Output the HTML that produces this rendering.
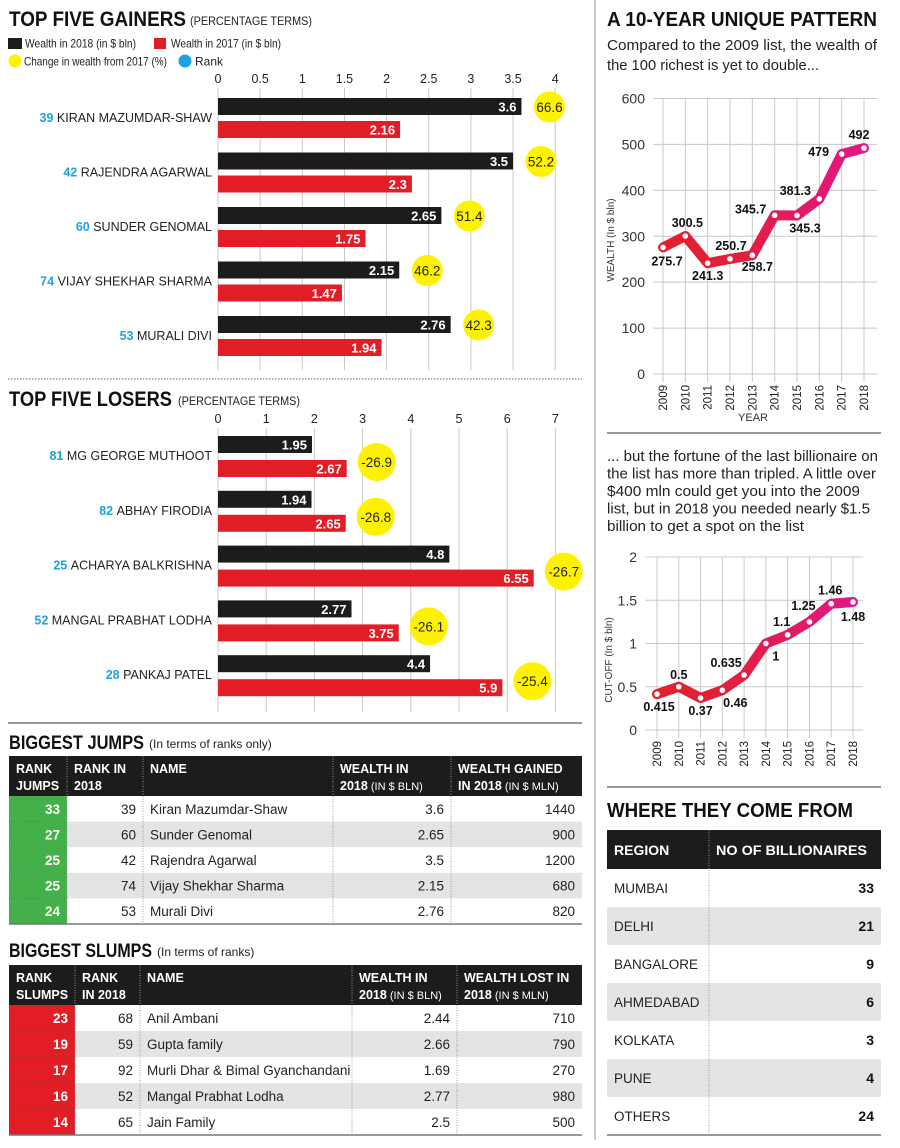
<!DOCTYPE html>
<html><head><meta charset="utf-8">
<style>
html,body{margin:0;padding:0;background:#fff;}
svg{display:block;font-family:"Liberation Sans Narrow","Liberation Sans",sans-serif;}
</style></head>
<body>
<svg id="root" width="900" height="1148" viewBox="0 0 900 1148" xmlns="http://www.w3.org/2000/svg">
<defs>
<linearGradient id="lg1" gradientUnits="userSpaceOnUse" x1="660" y1="0" x2="870" y2="0"><stop offset="0" stop-color="#e3202b"/><stop offset="0.35" stop-color="#e21f3c"/><stop offset="1" stop-color="#e2168a"/></linearGradient>
<linearGradient id="lg2" gradientUnits="userSpaceOnUse" x1="655" y1="0" x2="860" y2="0"><stop offset="0" stop-color="#e3202b"/><stop offset="0.35" stop-color="#e21f3c"/><stop offset="1" stop-color="#e2168a"/></linearGradient>
</defs>
</svg>
<script>
// ---------- DATA ----------
const gNames=['KIRAN MAZUMDAR-SHAW','RAJENDRA AGARWAL','SUNDER GENOMAL','VIJAY SHEKHAR SHARMA','MURALI DIVI'];
const gRanks=[39,42,60,74,53];
const g2018=[3.6,3.5,2.65,2.15,2.76];
const g2017=[2.16,2.3,1.75,1.47,1.94];
const gChange=['66.6','52.2','51.4','46.2','42.3'];
const gTicks=[0,0.5,1,1.5,2,2.5,3,3.5,4];
const lNames=['MG GEORGE MUTHOOT','ABHAY FIRODIA','ACHARYA BALKRISHNA','MANGAL PRABHAT LODHA','PANKAJ PATEL'];
const lRanks=[81,82,25,52,28];
const l2018=[1.95,1.94,4.8,2.77,4.4];
const l2017=[2.67,2.65,6.55,3.75,5.9];
const lChange=['-26.9','-26.8','-26.7','-26.1','-25.4'];
const lTicks=[0,1,2,3,4,5,6,7];
const years=['2009','2010','2011','2012','2013','2014','2015','2016','2017','2018'];
const wealth=[275.7,300.5,241.3,250.7,258.7,345.7,345.3,381.3,479,492];
const wTicks=[0,100,200,300,400,500,600];
const cutoff=[0.415,0.5,0.37,0.46,0.635,1,1.1,1.25,1.46,1.48];
const cTicks=[0,0.5,1,1.5,2];
const jJumps=[33,27,25,25,24];
const jRank=[39,60,42,74,53];
const jName=['Kiran Mazumdar-Shaw','Sunder Genomal','Rajendra Agarwal','Vijay Shekhar Sharma','Murali Divi'];
const jWealth=['3.6','2.65','3.5','2.15','2.76'];
const jGained=[1440,900,1200,680,820];
const sSlumps=[23,19,17,16,14];
const sRank=[68,59,92,52,65];
const sName=['Anil Ambani','Gupta family','Murli Dhar & Bimal Gyanchandani','Mangal Prabhat Lodha','Jain Family'];
const sWealth=['2.44','2.66','1.69','2.77','2.5'];
const sLost=[710,790,270,980,500];
const regions=['MUMBAI','DELHI','BANGALORE','AHMEDABAD','KOLKATA','PUNE','OTHERS'];
const regionCounts=[33,21,9,6,3,4,24];

const NS='http://www.w3.org/2000/svg';
const root=document.getElementById('root');
function mk(tag,attrs,parent){const e=document.createElementNS(NS,tag);for(const k in attrs)e.setAttribute(k,attrs[k]);(parent||root).appendChild(e);return e;}
function txt(s,attrs,parent){const e=mk('text',attrs,parent);e.textContent=s;return e;}
const RED='#e31d25',BLK='#1c1c1c',YEL='#fff200',BLU='#1ba3e4',GRN='#43b04a',GRID='#c8c8c8';

let e;
e=mk('line',{x1:595,y1:0,x2:595,y2:1140,stroke:'#bbb','stroke-width':1.5});


e=mk('line',{x1:8,y1:379,x2:582,y2:379,stroke:'#999','stroke-width':1.5,'stroke-dasharray':'1.5,1.5'});


e=mk('line',{x1:8,y1:723,x2:582,y2:723,stroke:'#777','stroke-width':1.5});



// ---------- GAINERS ----------
e=txt('TOP FIVE GAINERS',{x:9,y:26,'font-size':21,'font-weight':'bold',fill:'#111',textLength:177,lengthAdjust:'spacingAndGlyphs'});


e=txt('(PERCENTAGE TERMS)',{x:190,y:25,'font-size':11.5,fill:'#222',textLength:122,lengthAdjust:'spacingAndGlyphs'});


e=mk('rect',{x:8,y:38,width:14,height:11,fill:BLK});


e=txt('Wealth in 2018 (in $ bln)',{x:25,y:47.5,'font-size':12,fill:'#222',textLength:111,lengthAdjust:'spacingAndGlyphs'});


e=mk('rect',{x:154,y:38,width:12,height:11,fill:RED});


e=txt('Wealth in 2017 (in $ bln)',{x:171,y:47.5,'font-size':12,fill:'#222',textLength:110,lengthAdjust:'spacingAndGlyphs'});


e=mk('circle',{cx:15,cy:61,r:6.5,fill:YEL});


e=txt('Change in wealth from 2017 (%)',{x:24,y:65.5,'font-size':12,fill:'#222',textLength:143,lengthAdjust:'spacingAndGlyphs'});


e=mk('circle',{cx:185,cy:61,r:6.5,fill:BLU});


e=txt('Rank',{x:195,y:65.5,'font-size':12,fill:'#222'});



function barChart(cfg){
  const xs=v=>cfg.x0+v*cfg.unit;
  cfg.ticks.forEach(t=>{
    const l=mk('line',{x1:xs(t),y1:cfg.gridTop,x2:xs(t),y2:cfg.gridBot,stroke:GRID,'stroke-width':1});
    
    
    const tl=txt(String(t),{x:xs(t),y:cfg.tickY,'font-size':12.5,'text-anchor':'middle',fill:'#222'});
    
    
  });
  cfg.names.forEach((n,i)=>{
    const top=cfg.top0+i*cfg.step;
    const lab=txt('',{x:212,y:top+24,'font-size':12.5,'text-anchor':'end',fill:'#222'});
    
    
    const r=document.createElementNS(NS,'tspan');r.setAttribute('fill',BLU);r.setAttribute('font-weight','bold');r.textContent=cfg.ranks[i]+' ';lab.appendChild(r);
    const nn=document.createElementNS(NS,'tspan');nn.textContent=n;lab.appendChild(nn);
    const b1=mk('rect',{x:cfg.x0,y:top,width:xs(cfg.v1[i])-cfg.x0,height:17,fill:BLK});
    
    
    const t1=txt(String(cfg.v1[i]),{x:xs(cfg.v1[i])-5,y:top+13.5,'font-size':13,'font-weight':'bold','text-anchor':'end',fill:'#fff'});
    
    
    const b2=mk('rect',{x:cfg.x0,y:top+cfg.redOff,width:xs(cfg.v2[i])-cfg.x0,height:17,fill:RED});
    
    
    const t2=txt(String(cfg.v2[i]),{x:xs(cfg.v2[i])-5,y:top+cfg.redOff+13.5,'font-size':13,'font-weight':'bold','text-anchor':'end',fill:'#fff'});
    
    
    const cx=cfg.gain?xs(cfg.v1[i])+28:xs(cfg.v2[i])+30;
    const cy=cfg.gain?top+9:top+cfg.redOff+2;
    const c=mk('circle',{cx:cx,cy:cy,r:cfg.gain?15.5:19,fill:YEL});
    
    
    const ct=txt(cfg.change[i],{x:cx,y:cy+5,'font-size':13.5,'text-anchor':'middle',fill:'#222'});
    
    
  });
}
barChart({x0:218,unit:84.3,ticks:gTicks,gridTop:88,gridBot:370,tickY:83,names:gNames,ranks:gRanks,v1:g2018,v2:g2017,change:gChange,top0:98,step:54.5,redOff:23,gain:true});

// ---------- LOSERS ----------
e=txt('TOP FIVE LOSERS',{x:9,y:406,'font-size':21,'font-weight':'bold',fill:'#111',textLength:163,lengthAdjust:'spacingAndGlyphs'});


e=txt('(PERCENTAGE TERMS)',{x:178,y:405,'font-size':11.5,fill:'#222',textLength:122,lengthAdjust:'spacingAndGlyphs'});


barChart({x0:218,unit:48.2,ticks:lTicks,gridTop:428,gridBot:712,tickY:423,names:lNames,ranks:lRanks,v1:l2018,v2:l2017,change:lChange,top0:436,step:54.8,redOff:24,gain:false});

// ---------- TABLES ----------
function table(cfg){
  const t=txt(cfg.title,{x:9,y:cfg.titleY,'font-size':19,'font-weight':'bold',fill:'#111',textLength:cfg.titleW,lengthAdjust:'spacingAndGlyphs'});
  
  
  const st=txt(cfg.sub,{x:cfg.titleW+14,y:cfg.titleY-1,'font-size':12,fill:'#222'});
  
  
  const L=cfg.cols[0],R=cfg.cols[cfg.cols.length-1];
  const h=mk('rect',{x:L,y:cfg.hTop,width:R-L,height:cfg.hBot-cfg.hTop,fill:BLK});
  
  
  cfg.heads.forEach((hd,j)=>{
    hd.forEach((line,k)=>{
      const ht=txt('',{x:cfg.cols[j]+7,y:cfg.hTop+17+k*17,'font-size':12.5,'font-weight':'bold',fill:'#fff'});
      
      
      const a=document.createElementNS(NS,'tspan');a.textContent=line[0];ht.appendChild(a);
      if(line[1]){const b=document.createElementNS(NS,'tspan');b.setAttribute('font-weight','normal');b.setAttribute('font-size','11');b.textContent=' '+line[1];ht.appendChild(b);}
    });
  });
  const rh=(cfg.bot-cfg.hBot)/5;
  for(let i=0;i<5;i++){
    const y=cfg.hBot+i*rh;
    if(i%2==1){const g=mk('rect',{x:cfg.cols[1],y:y,width:R-cfg.cols[1],height:rh,fill:'#e4e4e4'});
      
      }
    const c=mk('rect',{x:L,y:y,width:cfg.cols[1]-L,height:rh,fill:cfg.color});
    
    
    if(i>0){const dl=mk('line',{x1:L,y1:y,x2:cfg.cols[1],y2:y,stroke:'#1d6b22','stroke-width':1,'stroke-dasharray':'1,1.5','stroke-opacity':0.6});
      
      }
    const vals=[cfg.c0[i],cfg.c1[i],cfg.c2[i],cfg.c3[i],cfg.c4[i]];
    vals.forEach((v,j)=>{
      const left=j==2;
      const tt=txt(String(v),{x:left?cfg.cols[j]+7:cfg.cols[j+1]-7,y:y+rh/2+5,'font-size':13.5,'text-anchor':left?'start':'end',fill:j==0?'#fff':'#222','font-weight':j==0?'bold':'normal'});
      
      
    });
  }
  for(let j=1;j<cfg.cols.length-1;j++){
    const vl=mk('line',{x1:cfg.cols[j],y1:cfg.hTop,x2:cfg.cols[j],y2:cfg.bot,stroke:'#999','stroke-width':1,'stroke-dasharray':'1,1.5'});
    
    
  }
  const bl=mk('line',{x1:L,y1:cfg.bot,x2:R,y2:cfg.bot,stroke:'#777','stroke-width':1.5});
  
  
}
table({key:'jumps',title:'BIGGEST JUMPS',sub:'(In terms of ranks only)',titleY:749,titleW:135,hTop:756,hBot:796,bot:924,cols:[9,67,143,333,451,582],color:GRN,
  heads:[[['RANK'],['JUMPS']],[['RANK IN'],['2018']],[['NAME']],[['WEALTH IN'],['2018','(IN $ BLN)']],[['WEALTH GAINED'],['IN 2018','(IN $ MLN)']]],
  c0:jJumps,c1:jRank,c2:jName,c3:jWealth,c4:jGained});
table({key:'slumps',title:'BIGGEST SLUMPS',sub:'(In terms of ranks)',titleY:957,titleW:143,hTop:965,hBot:1005,bot:1135,cols:[9,75,140,352,457,582],color:RED,
  heads:[[['RANK'],['SLUMPS']],[['RANK'],['IN 2018']],[['NAME']],[['WEALTH IN'],['2018','(IN $ BLN)']],[['WEALTH LOST IN'],['2018','(IN $ MLN)']]],
  c0:sSlumps,c1:sRank,c2:sName,c3:sWealth,c4:sLost});

// ---------- RIGHT: WEALTH LINE ----------
e=txt('A 10-YEAR UNIQUE PATTERN',{x:607,y:26,'font-size':20,'font-weight':'bold',fill:'#111',textLength:270,lengthAdjust:'spacingAndGlyphs'});


[['Compared to the 2009 list, the wealth of',270],['the 100 richest is yet to double...',212]].forEach((l,i)=>{
  const p=txt(l[0],{x:607,y:50+i*20,'font-size':15,fill:'#222',textLength:l[1],lengthAdjust:'spacingAndGlyphs'});
  
  
});
function lineChart(cfg){
  const xs=i=>cfg.xa+i*(cfg.xb-cfg.xa)/(years.length-1);
  const ys=v=>cfg.y0-(v-cfg.ticks[0])/(cfg.ticks[cfg.ticks.length-1]-cfg.ticks[0])*(cfg.y0-cfg.yTop);
  cfg.ticks.forEach(t=>{
    const l=mk('line',{x1:cfg.gl,y1:ys(t),x2:cfg.gr,y2:ys(t),stroke:GRID,'stroke-width':1});
    
    
    const tl=txt(String(t),{x:cfg.gl-8,y:ys(t)+5,'font-size':14,'text-anchor':'end',fill:'#333'});
    
    
  });
  years.forEach((y,i)=>{
    const l=mk('line',{x1:xs(i),y1:cfg.yTop,x2:xs(i),y2:cfg.y0+8,stroke:GRID,'stroke-width':1});
    
    
    const tl=txt(y,{x:xs(i)+4,y:cfg.y0+11,'font-size':11.5,'text-anchor':'end',fill:'#222',transform:`rotate(-90 ${xs(i)+4} ${cfg.y0+11})`});
    
    
  });
  const at=txt(cfg.ytitle,{x:0,y:0,'font-size':10,'text-anchor':'middle',fill:'#333',transform:`translate(${cfg.ytx} ${cfg.yty}) rotate(-90)`});
  
  
  const pts=cfg.vals.map((v,i)=>xs(i)+','+ys(v)).join(' ');
  const pl=mk('polyline',{points:pts,fill:'none',stroke:cfg.grad,'stroke-width':10,'stroke-linejoin':'round','stroke-linecap':'round'});
  
  
  cfg.vals.forEach((v,i)=>{
    const c=mk('circle',{cx:xs(i),cy:ys(v),r:2.8,fill:'#fff'});
    
    
    const o=cfg.off[i];
    const t=txt(String(v),{x:xs(i)+o[0],y:ys(v)+o[1],'font-size':12.5,'font-weight':'bold','text-anchor':'middle',fill:'#111'});
    
    
  });
}
lineChart({xa:663,xb:864,y0:374,yTop:98.5,gl:653,gr:877,ticks:wTicks,vals:wealth,grad:'url(#lg1)',ytitle:'WEALTH (In $ bln)',ytx:614,yty:240,
  off:[[4,18],[2,-9],[0,17],[1,-9],[5,16],[-24,-2],[8,17],[-24,-4],[-23,2],[-5,-9]]});
e=txt('YEAR',{x:753,y:421,'font-size':11,'text-anchor':'middle',fill:'#333'});



e=mk('line',{x1:607,y1:433,x2:881,y2:433,stroke:'#777','stroke-width':1.5});


[['... but the fortune of the last billionaire on',271],['the list has more than tripled. A little over',269],['$400 mln could get you into the 2009',253],['list, but in 2018 you needed nearly $1.5',263],['billion to get a spot on the list',197]].forEach((l,i)=>{
  const p=txt(l[0],{x:607,y:461+i*17.5,'font-size':15,fill:'#222',textLength:l[1],lengthAdjust:'spacingAndGlyphs'});
  
  
});
lineChart({xa:657,xb:853,y0:730,yTop:557,gl:645,gr:863,ticks:cTicks,vals:cutoff,grad:'url(#lg2)',ytitle:'CUT-OFF (In $ bln)',ytx:612,yty:660,
  off:[[2,17],[0,-8],[0,17],[13,17],[-18,-8],[10,17],[-6,-9],[-6,-12],[-1,-9],[0,19]]});
e=mk('line',{x1:607,y1:787,x2:881,y2:787,stroke:'#777','stroke-width':1.5});



// ---------- REGIONS ----------
e=txt('WHERE THEY COME FROM',{x:607,y:817,'font-size':20,'font-weight':'bold',fill:'#111',textLength:246,lengthAdjust:'spacingAndGlyphs'});


e=mk('rect',{x:607,y:830,width:274,height:39,fill:BLK});


e=txt('REGION',{x:614,y:855,'font-size':14,'font-weight':'bold',fill:'#fff'});


e=txt('NO OF BILLIONAIRES',{x:716,y:855,'font-size':14,'font-weight':'bold',fill:'#fff',textLength:151,lengthAdjust:'spacingAndGlyphs'});


regions.forEach((r,i)=>{
  const y=869+i*38;
  if(i%2==1){const g=mk('rect',{x:607,y:y,width:274,height:38,fill:'#e4e4e4'});
    
    }
  const a=txt(r,{x:614,y:y+24,'font-size':13.5,fill:'#222'});
  
  
  const b=txt(String(regionCounts[i]),{x:874,y:y+24,'font-size':14,'font-weight':'bold','text-anchor':'end',fill:'#111'});
  
  
});
e=mk('line',{x1:709,y1:830,x2:709,y2:1135,stroke:'#999','stroke-width':1,'stroke-dasharray':'1,1.5'});


e=mk('line',{x1:607,y1:1135,x2:881,y2:1135,stroke:'#777','stroke-width':1.5});


</script>
</body></html>
